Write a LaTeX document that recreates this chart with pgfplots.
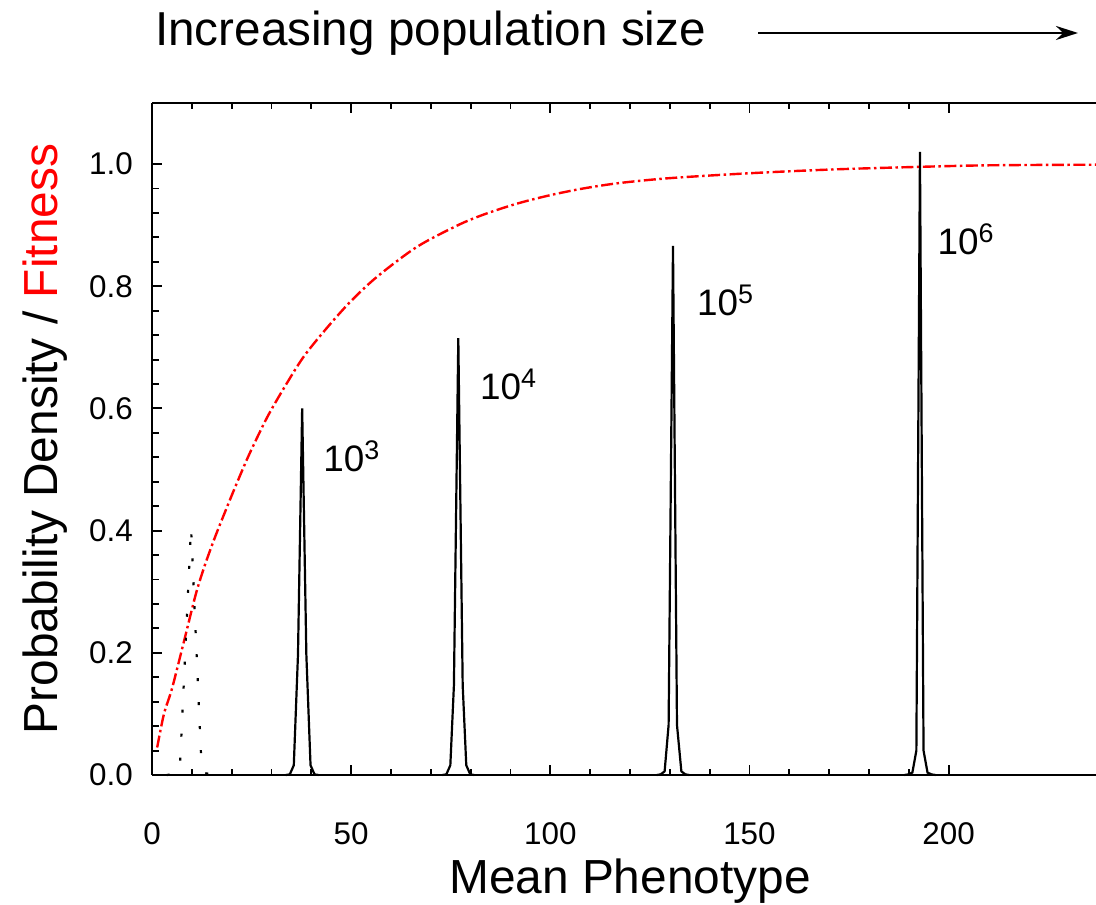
\documentclass[border=0pt]{standalone}
\usepackage{fontspec}
\setmainfont{Liberation Sans}
\usepackage{pgfplots}
\pgfplotsset{compat=1.18}
\usetikzlibrary{arrows.meta}
\definecolor{fitred}{RGB}{255,0,0}
\begin{document}
\begin{tikzpicture}
\useasboundingbox (0,0) rectangle (1096bp,905bp);
\begin{axis}[
  at={(152bp,130bp)}, anchor=south west,
  width=944bp, height=672bp, scale only axis,
  xmin=0, xmax=237, ymin=0, ymax=1.1,
  enlargelimits=false,
  axis x line*=box, axis y line*=left,
  axis line style={line width=2bp},
  xtick={0,50,100,150,200}, minor x tick num=4,
  ytick={0,0.2,0.4,0.6,0.8,1.0}, minor y tick num=4,
  tick align=inside,
  major tick length=10bp, minor tick length=6.5bp,
  every tick/.style={black, line width=1.9bp},
  /pgf/number format/assume math mode=true,
  yticklabel={\pgfmathprintnumber[fixed,fixed zerofill,precision=1]{\tick}},
  xticklabel style={font=\fontsize{31.5}{36}\selectfont, inner sep=0pt, yshift=-47bp},
  yticklabel style={font=\fontsize{31.5}{36}\selectfont, inner sep=0pt, xshift=-19bp},
  clip=false,
]
% fitness curve
\addplot[fitred, line width=2.4bp, smooth, dash pattern=on 12bp off 3.5bp on 2.5bp off 3.5bp] coordinates {
(1.3,0.045) (3,0.10) (5,0.141) (8,0.218) (11,0.296) (13.3,0.344) (15.8,0.389)
(18.3,0.430) (20.8,0.470) (23.8,0.516) (26.3,0.551) (29.2,0.589) (33,0.632)
(38,0.684) (43.8,0.731) (49.7,0.774) (56.4,0.815) (66.4,0.864) (76.5,0.899)
(83.1,0.917) (91.5,0.935) (99.9,0.949) (108.2,0.960) (117.4,0.969) (130,0.977)
(150,0.985) (170,0.991) (190,0.995) (210,0.998) (237,0.999)
};
% smallest population (dotted)
\addplot[black, line width=2.2bp, dash pattern=on 3bp off 21bp] coordinates {
(3.7,0) (6.2,0.002) (7.0,0.012) (9.8,0.405) (12.4,0.020) (13.3,0.003) (16.0,0)
};
% 10^3
\addplot[black, line width=2.2bp] coordinates {
(33.6,0) (34.6,0.001) (35.6,0.016) (36.65,0.197) (37.7,0.600) (38.75,0.197) (39.8,0.016) (40.8,0.001) (41.8,0)
};
% 10^4
\addplot[black, line width=2.2bp] coordinates {
(72.9,0) (73.9,0.001) (74.9,0.016) (75.8,0.147) (76.9,0.715) (78.0,0.147) (78.9,0.016) (79.9,0.001) (80.9,0)
};
% 10^5
\addplot[black, line width=2.2bp] coordinates {
(126.7,0) (127.7,0.001) (128.7,0.006) (129.7,0.082) (130.8,0.866) (131.8,0.082) (132.9,0.006) (133.9,0.001) (134.9,0)
};
% 10^6
\addplot[black, line width=2.2bp] coordinates {
(188.9,0) (189.9,0.001) (190.9,0.004) (191.9,0.040) (192.8,1.020) (193.7,0.040) (194.7,0.004) (195.7,0.001) (196.7,0)
};
\node[anchor=base west, inner sep=0pt, font=\fontsize{37}{40}\selectfont] at (axis cs:43.0,0.497) {10\raisebox{12bp}{\fontsize{27}{28}\selectfont 3}};
\node[anchor=base west, inner sep=0pt, font=\fontsize{37}{40}\selectfont] at (axis cs:82.3,0.615) {10\raisebox{12bp}{\fontsize{27}{28}\selectfont 4}};
\node[anchor=base west, inner sep=0pt, font=\fontsize{37}{40}\selectfont] at (axis cs:136.8,0.752) {10\raisebox{12bp}{\fontsize{27}{28}\selectfont 5}};
\node[anchor=base west, inner sep=0pt, font=\fontsize{37}{40}\selectfont] at (axis cs:197.2,0.852) {10\raisebox{12bp}{\fontsize{27}{28}\selectfont 6}};
\end{axis}
% title with arrow
\node[anchor=base west, inner sep=0pt, font=\fontsize{47.8}{52}\selectfont] at (155bp,859bp) {Increasing population size};
\draw[line width=2.4bp, -{Stealth[length=22bp,width=14bp]}] (758bp,872bp) -- (1078bp,872bp);
% axis labels
\node[anchor=base, inner sep=0pt, font=\fontsize{48}{52}\selectfont] at (630bp,12bp) {Mean Phenotype};
\node[anchor=base, inner sep=0pt, rotate=90, font=\fontsize{48}{52}\selectfont] at (57bp,466bp) {Probability Density / \textcolor{fitred}{Fitness}};
\end{tikzpicture}
\end{document}
